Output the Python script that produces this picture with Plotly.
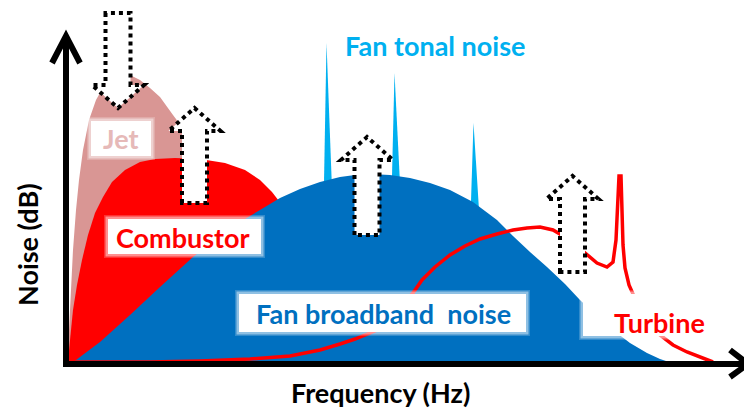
import numpy as np
import plotly.graph_objects as go

# ---------------- data (arbitrary frequency / level units) ----------------
jet_freq = [1, 3, 5, 7, 10, 13, 17, 23, 30, 39, 47, 54, 64, 74, 84, 94, 107, 116, 129, 142, 159, 184, 214, 244, 264]
jet_level = [1, 33, 73, 113, 153, 183, 213, 243, 263, 279, 287, 290, 288, 283, 275, 266, 248, 236, 218, 198, 168, 123, 73, 28, 1]

comb_freq = [2, 4, 7, 11, 16, 22, 29, 37, 46, 59, 74, 89, 109, 134, 159, 179, 194, 206, 216, 226, 244, 264, 284, 299]
comb_level = [1, 23, 53, 78, 103, 128, 150, 166, 181, 193, 201, 204, 205, 204, 200, 193, 183, 171, 158, 143, 113, 73, 33, 1]

fan_freq = [6, 34, 64, 94, 127, 164, 194, 214, 234, 254, 274, 289, 304, 324, 344, 364, 384, 407, 431, 447, 464, 481, 499, 514, 531, 547, 564, 581, 594, 606]
fan_level = [0, 21, 48, 76, 106, 135, 153, 165, 174, 181, 186, 188, 189, 188, 185, 180, 173, 161, 143, 127, 111, 96, 79, 63, 47, 33, 20, 10, 4, 0]

tone_freq = [261, 329, 408]
tone_level = [320, 290, 240]

turb_freq = [4, 84, 134, 184, 224, 254, 274, 289, 311, 329, 347, 356, 369, 384, 399, 414, 431, 447, 461, 474, 487, 499, 512, 522, 531, 541,
             547, 550, 552, 553, 555, 556, 557, 559, 563, 571, 582, 594, 607, 621, 634, 647]
turb_level = [1, 1, 2, 4, 7, 13, 19, 24, 33, 50, 70, 83, 96, 108, 117, 124, 129, 133, 135, 136, 133, 126, 116, 107, 100, 96,
              101, 123, 163, 187, 187, 153, 118, 95, 78, 60, 43, 28, 18, 11, 6, 1]

# change indicators: x position, tail level, tip level
arrow_x = [52, 128.5, 301, 506.5]
arrow_tail = [350, 160, 128, 91]
arrow_tip = [255, 255, 226, 187]

# ---------------- colours ----------------
PINK = "#D99694"
RED = "#FF0000"
BLUE = "#0070C0"
LBLUE = "#00B0F0"
FONT = "Lato"

fig = go.Figure()

fig.add_trace(go.Scatter(x=jet_freq, y=jet_level, fill="tozeroy", mode="none",
                         fillcolor=PINK, hoverinfo="skip"))
fig.add_trace(go.Scatter(x=comb_freq, y=comb_level, fill="tozeroy", mode="none",
                         fillcolor=RED, hoverinfo="skip"))

# tonal spikes
for f, L in zip(tone_freq, tone_level):
    surf = float(np.interp(f, fan_freq, fan_level))
    base = surf - 15
    hw = 3.8 * (L - base) / (L - surf)
    fig.add_trace(go.Scatter(x=[f - 0.5, f - hw + 1, f + hw + 1, f - 0.5],
                             y=[L, base, base, L], fill="toself", mode="none",
                             fillcolor=LBLUE, hoverinfo="skip"))

fig.add_trace(go.Scatter(x=fan_freq, y=fan_level, fill="tozeroy", mode="none",
                         fillcolor=BLUE, hoverinfo="skip"))

fig.add_trace(go.Scatter(x=turb_freq, y=turb_level, mode="lines",
                         line=dict(color=RED, width=3.5), hoverinfo="skip"))

shapes = []

# label boxes (soft-edged white)
boxes = [(24, 86, 206, 243), (41, 196, 108, 145), (172, 461, 30, 70), (516, 672, 26, 70)]
for x0, x1, y0, y1 in boxes:
    for pad, op in [(3, 0.2), (1.5, 0.45), (-1, 1.0)]:
        shapes.append(dict(type="rect", x0=x0 - pad, x1=x1 + pad, y0=y0 - pad, y1=y1 + pad,
                           fillcolor="white", opacity=op, line=dict(width=0), layer="above"))

# hollow dotted arrows
hw, HW, HL = 12.5, 26, 23
for ax, at, ap in zip(arrow_x, arrow_tail, arrow_tip):
    s = 1 if ap > at else -1
    ys = ap - s * HL
    pts = [(ax - hw, at), (ax - hw, ys), (ax - HW, ys), (ax, ap), (ax + HW, ys), (ax + hw, ys), (ax + hw, at)]
    path = "M " + " L ".join(f"{px},{py}" for px, py in pts) + " Z"
    shapes.append(dict(type="path", path=path, fillcolor="white",
                       line=dict(color="black", width=4, dash="dot"), layer="above"))

# axes with open arrow heads
shapes.append(dict(type="path", path="M 0,-3 L 0,327", line=dict(color="black", width=6), layer="above"))
shapes.append(dict(type="path", path="M -14,300 L 0,327 L 14,300", line=dict(color="black", width=6), layer="above"))
shapes.append(dict(type="path", path="M -3,-1 L 682,-1", line=dict(color="black", width=6), layer="above"))
shapes.append(dict(type="path", path="M 664,13 L 682,-1 L 664,-14", line=dict(color="black", width=6), layer="above"))

annotations = [
    dict(x=54, y=225, text="<b>Jet</b>", font=dict(color="#E6B9B8", size=27, family=FONT)),
    dict(x=117, y=126, text="<b>Combustor</b>", font=dict(color=RED, size=27, family=FONT)),
    dict(x=317, y=50, text="<b>Fan broadband  noise</b>", font=dict(color=BLUE, size=27, family=FONT)),
    dict(x=593, y=41, text="<b>Turbine</b>", font=dict(color=RED, size=27, family=FONT)),
    dict(x=369, y=318, text="<b>Fan tonal noise</b>", font=dict(color=LBLUE, size=27, family=FONT)),
    dict(x=314, y=-29, text="<b>Frequency (Hz)</b>", font=dict(color="black", size=27, family=FONT)),
    dict(x=-39, y=118, text="<b>Noise (dB)</b>", textangle=-90, font=dict(color="black", size=27, family=FONT)),
]
for a in annotations:
    a.update(xref="x", yref="y", showarrow=False, xanchor="center", yanchor="middle")

# the page places the plot 8 px from the window's top-left corner
fig.update_layout(
    width=744, height=402, margin=dict(l=0, r=0, t=0, b=0),
    paper_bgcolor="white", plot_bgcolor="white", showlegend=False,
    xaxis=dict(range=[-58, 686], visible=False, fixedrange=True),
    yaxis=dict(range=[-47, 355], visible=False, fixedrange=True),
    shapes=shapes, annotations=annotations,
)

fig.write_html("out.html")
